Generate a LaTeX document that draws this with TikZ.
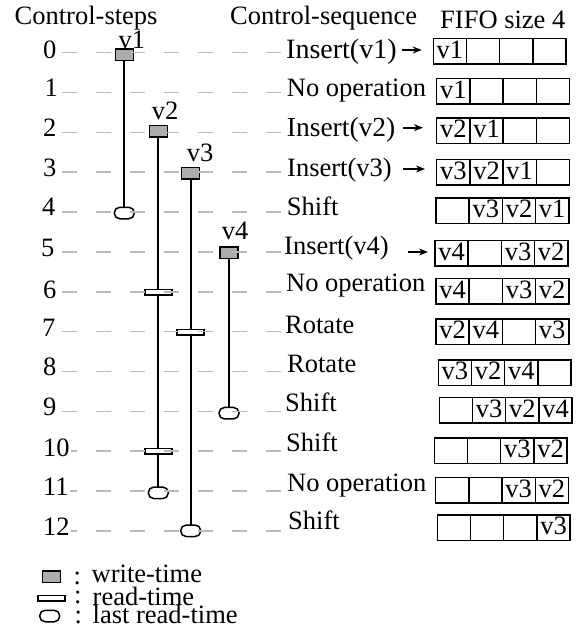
\documentclass[tikz,border=0pt]{standalone}
\usepackage{fontspec}
\setmainfont{Liberation Serif}
\usetikzlibrary{arrows.meta}
\begin{document}
\begin{tikzpicture}[x=1pt,y=-1pt,
  font=\fontsize{26.5}{28}\selectfont,
  lbl/.style={inner sep=0pt, anchor=base west},
  gridline/.style={draw=gray!55, line width=1.6pt, dash pattern=on 15pt off 19pt},
  life/.style={line width=1.8pt},
  wbox/.style={draw, fill=gray!65, line width=1.5pt, minimum width=18pt, minimum height=11.5pt, inner sep=0pt, outer sep=0pt},
  rbox/.style={draw, fill=white, line width=1.5pt, minimum width=27pt, minimum height=5.5pt, inner sep=0pt, outer sep=0pt},
  lbox/.style={draw, fill=white, line width=1.5pt, rounded corners=5.5pt, minimum width=20pt, minimum height=11.5pt, inner sep=0pt, outer sep=0pt},
  cell/.style={draw, line width=1.5pt, minimum width=33.2pt, minimum height=25.5pt, inner sep=0pt, outer sep=0pt, text height=16pt, text depth=2pt, anchor=west},
  insarrow/.style={line width=2pt, -{Stealth[length=9pt,width=7pt]}}
]
\useasboundingbox (0,0) rectangle (583,631);

% headers
\node[lbl] (h1) at (14.5,25) {Control-steps};
\node[lbl] (h2) at (230,25) {Control-sequence};
\node[lbl] (h3) at (440,28.3) {FIFO size 4};

% step numbers and operations
\foreach \i/\ry/\nx/\ny/\ox/\oy/\op in {
  0/52.7/43/58.3/286/58.3/{\fontsize{28}{30}\selectfont Insert(v1)},
  1/92.6/44.5/96.7/286.7/96.7/No operation,
  2/132.4/43/136.7/286.7/136.7/{\fontsize{27.5}{30}\selectfont Insert(v2)},
  3/172.3/43/176.7/287/176.7/Insert(v3),
  4/212.1/42/215/286.7/215/Shift,
  5/252/41/256.7/284/254/Insert(v4),
  6/291.8/43/298.3/286/291.7/No operation,
  7/331.6/42/336/285/333.3/Rotate,
  8/371.5/43/375/287/372.7/Rotate,
  9/411.3/43/415/285/411.7/Shift,
  10/451.2/43/456/286/451.7/Shift,
  11/491/43/495/287/491.7/No operation,
  12/530.9/43/535/288/529.3/Shift}{
  \node[lbl] (n\i) at (\nx,\ny) {\i};
  \node[lbl] (op\i) at (\ox,\oy) {\op};
  \coordinate (g\i) at (281,\ry);
}

% FIFO contents
\foreach \i/\fx/\fy/\a/\b/\c/\d in {
  0/433.3/51.2/v1/{}/{}/{},
  1/436.7/91.5/v1/{}/{}/{},
  2/436.7/130.8/v2/v1/{}/{},
  3/436.7/172.2/v3/v2/v1/{},
  4/436/210.8/{}/v3/v2/v1,
  5/435/253.3/v4/{}/v3/v2,
  6/436/291.2/v4/{}/v3/v2,
  7/436/331.8/v2/v4/{}/v3,
  8/438.3/372.5/v3/v2/v4/{},
  9/439.3/410/{}/v3/v2/v4,
  10/434.3/450.8/{}/{}/v3/v2,
  11/435.7/490/{}/{}/v3/v2,
  12/437.3/527.8/{}/{}/{}/v3}{
  \node[cell] (f\i-1) at (\fx,\fy) {\a};
  \node[cell] (f\i-2) at (f\i-1.east) {\b};
  \node[cell] (f\i-3) at (f\i-2.east) {\c};
  \node[cell] (f\i-4) at (f\i-3.east) {\d};
}

% insert arrows
\coordinate (a0s) at (401.7,50);  \coordinate (a0e) at (421.7,50);
\coordinate (a2s) at (403,127.7); \coordinate (a2e) at (423,127.7);
\coordinate (a3s) at (403,169);   \coordinate (a3e) at (425,169);
\coordinate (a5s) at (408,252);   \coordinate (a5e) at (428,252);
\draw[insarrow] (a0s) -- (a0e);
\draw[insarrow] (a2s) -- (a2e);
\draw[insarrow] (a3s) -- (a3e);
\draw[insarrow] (a5s) -- (a5e);

% lifetimes
\node[lbl] (t1) at (118.3,48.5) {v1};
\node[lbl] (t2) at (151.7,119.3) {v2};
\node[lbl] (t3) at (186.7,161.7) {v3};
\node[lbl] (t4) at (221.7,239.3) {v4};

\node[wbox] (w1) at (124.3,55) {};
\node[lbox] (l1) at (124.3,213) {};
\draw[life] (w1.south) -- (l1.north);

\node[wbox] (w2) at (158.3,131.2) {};
\node[lbox] (l2) at (158.3,492.8) {};
\draw[life] (w2.south) -- (l2.north);
\node[rbox] (r2a) at (158.3,292.3) {};
\node[rbox] (r2b) at (158.3,451.2) {};

\node[wbox] (w3) at (190.7,173.3) {};
\node[lbox] (l3) at (190.7,530.8) {};
\draw[life] (w3.south) -- (l3.north);
\node[rbox] (r3) at (190.7,332.2) {};

\node[wbox] (w4) at (229,252.5) {};
\node[lbox] (l4) at (229,413.2) {};
\draw[life] (w4.south) -- (l4.north);

% dashed step lines
\foreach \i in {0,...,12}{
  \draw[gridline] (g\i) -- ([xshift=1pt]g\i -| n\i.east);
}

% legend
\node[wbox] (kw) at (51.5,576.5) {};
\node[rbox] (kr) at (51.7,598.3) {};
\node[lbox] (kl) at (49.7,616) {};
\node[lbl] (kc1) at (73.5,584) {:};
\node[lbl] (kc2) at (74,603) {:};
\node[lbl] (kc3) at (74.5,623) {:};
\node[lbl] (kt1) at (91.5,582.3) {write-time};
\node[lbl] (kt2) at (92.5,605) {read-time};
\node[lbl] (kt3) at (92.5,623.3) {last read-time};
\end{tikzpicture}
\end{document}
